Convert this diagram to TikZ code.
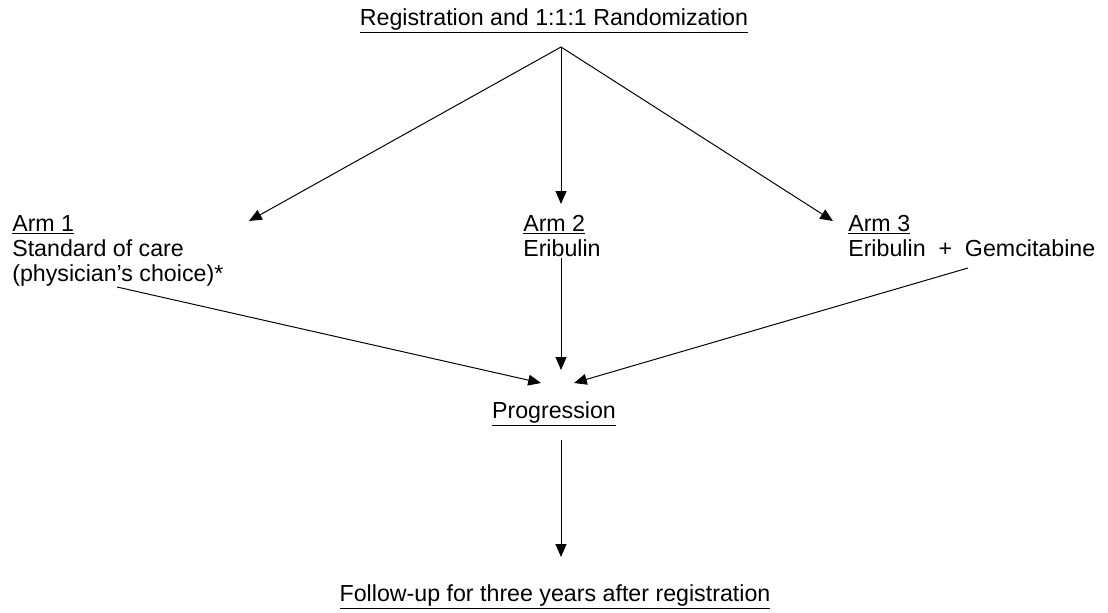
\documentclass[tikz,border=0pt]{standalone}
\usepackage{fontspec}
\setmainfont{Liberation Sans}
\usetikzlibrary{calc, positioning, arrows.meta}

\begin{document}
\begin{tikzpicture}[x=0.025cm, y=-0.025cm,
  lbl/.style={inner sep=0pt, font=\fontsize{16.5}{18}\selectfont},
  armtext/.style={lbl, align=left, anchor=north west},
  flow/.style={line width=0.7pt, -{Triangle[length=0.32cm, width=0.27cm]}}]
\useasboundingbox (0,0) rectangle (1108,612);

% Headings
\node[lbl, anchor=base] (reg) at (554,25) {\underline{Registration and 1:1:1 Randomization}};
\node[lbl, anchor=base] (prog) at (554,418) {\underline{Progression}};
\node[lbl, anchor=base] (follow) at (555,601) {\underline{Follow-up for three years after registration}};

% Treatment arms
\node[armtext] (arm1) at (12,215) {\underline{Arm 1}\\Standard of care\\(physician’s choice)*};
\node[armtext] (arm2) at (523,215) {\underline{Arm 2}\\Eribulin};
\node[armtext] (arm3) at (848,215) {\underline{Arm 3}\\Eribulin~~+~~Gemcitabine};

% Points where the lines meet
\coordinate (split) at (561,47);
\coordinate (in1) at (249,221);
\coordinate (in2) at (561,204);
\coordinate (in3) at (833,221);
\coordinate (out1) at (117,287);
\coordinate (out2) at (561,258);
\coordinate (out3) at (968,268);
\coordinate (join1) at (541,383);
\coordinate (join2) at (561,370);
\coordinate (join3) at (574,383);
\coordinate (down) at (561,440);
\coordinate (end) at (561,557);

% Draw the arrows
\draw[flow] (split) -- (in1);
\draw[flow] (split) -- (in2);
\draw[flow] (split) -- (in3);
\draw[flow] (out1) -- (join1);
\draw[flow] (out2) -- (join2);
\draw[flow] (out3) -- (join3);
\draw[flow] (down) -- (end);
\end{tikzpicture}
\end{document}
